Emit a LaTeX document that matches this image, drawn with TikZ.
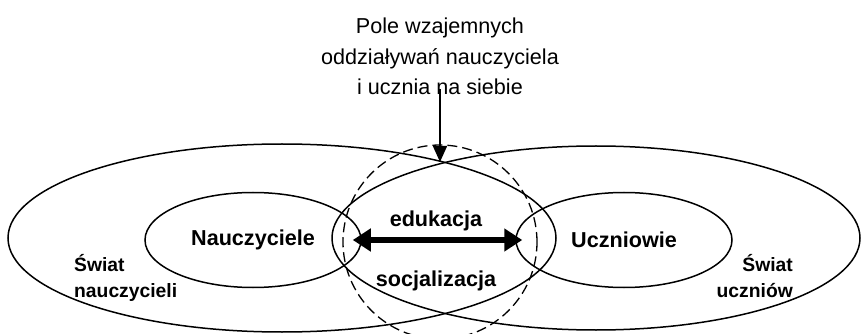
\documentclass[tikz,border=0pt]{standalone}
\usepackage{fontspec}
\setmainfont{Liberation Sans}
\usetikzlibrary{shapes.geometric,arrows.meta}
\tikzset{
  swiat/.style={draw,ellipse,line width=1.5pt,inner sep=0pt},
  grupa/.style={draw,ellipse,line width=1.5pt,inner sep=0pt,minimum width=216pt,minimum height=95pt,
    font=\fontsize{21.6}{26}\selectfont\bfseries},
  podpis/.style={font=\fontsize{19.3}{26}\selectfont\bfseries,inner sep=0pt},
  opis/.style={font=\fontsize{21.6}{26}\selectfont\bfseries,inner sep=0pt}
}

\begin{document}
\begin{tikzpicture}[x=1pt,y=-1pt]
  \useasboundingbox (0,0) rectangle (863,334);

  \node[swiat,minimum width=548pt,minimum height=188pt] (swiatN) at (282,238) {};
  \node[swiat,minimum width=528pt,minimum height=184pt] (swiatU) at (596,238) {};
  \node[draw,circle,line width=1.3pt,dash pattern=on 10pt off 5pt,inner sep=0pt,minimum size=194pt] (pole) at (440,242) {};

  \node[grupa] (nauczyciele) at (253,240) {Nauczyciele};
  \node[grupa] (uczniowie) at (624,240) {Uczniowie};

  \node[opis,anchor=base] (edukacja) at (436,227) {edukacja};
  \node[opis,anchor=base] (socjalizacja) at (436,287) {socjalizacja};

  \node[podpis,anchor=base west,align=left] (swN) at (74,298) {Świat\\nauczycieli};
  \node[podpis,anchor=base east,align=right] (swU) at (793,298) {Świat\\uczniów};

  \node[anchor=base,align=center,inner sep=0pt,font=\fontsize{21.6}{30.5}\selectfont] (tytul) at (440,95)
    {Pole wzajemnych\\oddziaływań nauczyciela\\i ucznia na siebie};
  \coordinate (przeciecie) at (440,162);

  \draw[line width=5.5pt,{Triangle[length=18pt,width=22pt]}-{Triangle[length=18pt,width=22pt]},
    shorten <=-9pt,shorten >=-7pt] (nauczyciele) -- (uczniowie);
  \draw[line width=1.5pt,-{Triangle[length=16pt,width=14pt]},shorten <=-6pt] (tytul.south) -- (przeciecie);
\end{tikzpicture}
\end{document}
